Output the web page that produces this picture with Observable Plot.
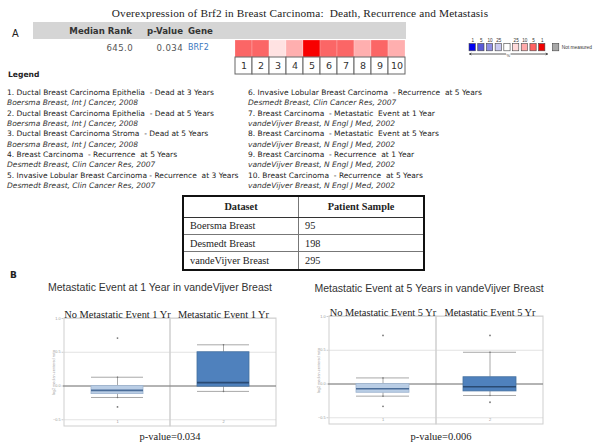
<!DOCTYPE html>
<html><head><meta charset="utf-8">
<script src="https://cdn.jsdelivr.net/npm/d3@7"></script>
<script src="https://cdn.jsdelivr.net/npm/@observablehq/plot@0.6"></script>
<style>
html,body{margin:0;padding:0;background:#fff;}
#root{position:relative;width:600px;height:448px;overflow:hidden;font-family:"Liberation Sans",Arial,sans-serif;}
.abs{position:absolute;white-space:pre;}
.plotbox{position:absolute;}
table.ds{position:absolute;border-collapse:collapse;border:2px solid #111;font-family:"Liberation Serif",serif;font-size:10.3px;color:#222;}
table.ds td, table.ds th{border:1px solid #777;padding:0 6px;}
table.ds th{font-weight:bold;text-align:center;border-bottom:1.5px solid #333;}
</style></head>
<body><div id="root"></div>
<script>
// ---------------- data ----------------
const chartTitle = "Overexpression of Brf2 in Breast Carcinoma:  Death, Recurrence and Metastasis";
const headerLabels = ["Median Rank", "p-Value", "Gene"];
const geneValues = ["645.0", "0.034", "BRF2"];

const studyIds = [1, 2, 3, 4, 5, 6, 7, 8, 9, 10];
const studyBins = [5, 5, 25, 10, 1, 5, 5, 10, 5, 10];           // top-% bin of each analysis
const redBins = [1, 5, 10, 25];
const redColors = ["#f80000", "#fb6666", "#ffafaf", "#ffe2e2"];

const legendSwatchLabels = ["1", "5", "10", "25", "", "25", "10", "5", "1"];
const legendSwatchColors = ["#0000f0", "#5a5ad8", "#8e8ee4", "#cacaf2", "#ffffff", "#ffdada", "#ffaaaa", "#ff6262", "#f00000"];
const notMeasuredColor = "#a8a8a8";
const notMeasuredLabel = "Not measured";

const legendTitles = [
  "1. Ductal Breast Carcinoma Epithelia  - Dead at 3 Years",
  "2. Ductal Breast Carcinoma Epithelia  - Dead at 5 Years",
  "3. Ductal Breast Carcinoma Stroma  - Dead at 5 Years",
  "4. Breast Carcinoma  - Recurrence  at 5 Years",
  "5. Invasive Lobular Breast Carcinoma - Recurrence  at 3 Years",
  "6. Invasive Lobular Breast Carcinoma  - Recurrence  at 5 Years",
  "7. Breast Carcinoma  - Metastatic  Event at 1 Year",
  "8. Breast Carcinoma  - Metastatic  Event at 5 Years",
  "9. Breast Carcinoma  - Recurrence  at 1 Year",
  "10. Breast Carcinoma  - Recurrence  at 5 Years"
];
const legendSources = [
  "Boersma Breast, Int J Cancer, 2008",
  "Boersma Breast, Int J Cancer, 2008",
  "Boersma Breast, Int J Cancer, 2008",
  "Desmedt Breast, Clin Cancer Res, 2007",
  "Desmedt Breast, Clin Cancer Res, 2007",
  "Desmedt Breast, Clin Cancer Res, 2007",
  "vandeVijver Breast, N Engl J Med, 2002",
  "vandeVijver Breast, N Engl J Med, 2002",
  "vandeVijver Breast, N Engl J Med, 2002",
  "vandeVijver Breast, N Engl J Med, 2002"
];

const tableHeader = ["Dataset", "Patient Sample"];
const tableDatasets = ["Boersma Breast", "Desmedt Breast", "vandeVijver Breast"];
const tableSamples = [95, 198, 295];

const yTicks = [-0.5, 0, 0.5, 1.0];
const yDomain = [-0.6, 1.0];
const zeroLine = [0];

// Panel 1: metastatic event at 1 year
const p1Title = "Metastatic Event at 1 Year in vandeVijver Breast";
const p1Groups = ["No Metastatic Event 1 Yr", "Metastatic Event 1 Yr"];
const p1Q1 = [-0.12, -0.01];
const p1Med = [-0.065, 0.05];
const p1Q3 = [0.0, 0.50];
const p1Lo = [-0.17, -0.08];
const p1Hi = [0.13, 0.61];
const p1OutGroup = [0, 0];
const p1OutValue = [0.71, -0.31];
const p1PValue = "p-value=0.034";

// Panel 2: metastatic event at 5 years
const p2Title = "Metastatic Event at 5 Years in vandeVijver Breast";
const p2Groups = ["No Metastatic Event 5 Yr", "Metastatic Event 5 Yr"];
const p2Q1 = [-0.13, -0.11];
const p2Med = [-0.07, -0.04];
const p2Q3 = [0.0, 0.10];
const p2Lo = [-0.18, -0.17];
const p2Hi = [0.09, 0.47];
const p2OutGroup = [0, 0, 1, 1];
const p2OutValue = [0.72, -0.33, 0.72, -0.27];
const p2PValue = "p-value=0.006";

const boxFills = ["#b9cde5", "#4f81bd"];
const boxStrokes = ["#9db3cf", "#44709f"];
const medianColors = ["#4a6d99", "#2a4a72"];

// ---------------- helpers ----------------
const root = document.getElementById("root");
function label(text, x, yc, css = {}, anchor = "start") {
  const d = document.createElement("div");
  d.className = "abs";
  d.textContent = text;
  const lh = css.lh || 12;
  Object.assign(d.style, {top: (yc - lh / 2) + "px", lineHeight: lh + "px"});
  if (anchor === "start") d.style.left = x + "px";
  else if (anchor === "end") { d.style.right = (600 - x) + "px"; }
  else { d.style.left = x + "px"; d.style.transform = "translateX(-50%)"; }
  for (const k in css) if (k !== "lh") d.style[k] = css[k];
  root.appendChild(d);
  return d;
}
function placePlot(svg, left, top) {
  const w = document.createElement("div");
  w.className = "plotbox";
  w.style.left = left + "px";
  w.style.top = top + "px";
  w.appendChild(svg);
  root.appendChild(w);
}

// ---------------- title & section A ----------------
label(chartTitle, 300, 13, {fontFamily: "Liberation Serif, serif", fontSize: "11.3px", letterSpacing: "0.15px", color: "#222"}, "middle");
label("A", 12, 34, {fontSize: "10px", color: "#222"});

const bar = document.createElement("div");
Object.assign(bar.style, {position: "absolute", left: "33px", top: "22px", width: "373px", height: "17px", background: "#d5d5d5"});
root.appendChild(bar);

const hdrCss = {fontFamily: "DejaVu Sans, sans-serif", fontWeight: "bold", fontSize: "8.6px", color: "#333"};
label(headerLabels[0], 132, 31, hdrCss, "end");
label(headerLabels[1], 183, 31, hdrCss, "end");
label(headerLabels[2], 188, 31, hdrCss, "start");
const valCss = {fontFamily: "DejaVu Sans, sans-serif", fontSize: "8.6px", color: "#555", letterSpacing: "0.4px"};
label(geneValues[0], 133, 48, valCss, "end");
label(geneValues[1], 183, 48, valCss, "end");
label(geneValues[2], 188, 48, {fontFamily: "DejaVu Sans, sans-serif", fontSize: "8px", color: "#3b78c0"}, "start");

// heatmap of the ten analyses
const studies = studyIds.map((id, i) => ({id, bin: studyBins[i], num: String(id)}));
const heat = Plot.plot({
  width: 175, height: 35, marginLeft: 1, marginRight: 1, marginTop: 0, marginBottom: 1,
  style: {background: "transparent", overflow: "visible", fontFamily: "DejaVu Sans, sans-serif"},
  x: {type: "band", domain: studyIds, padding: 0, axis: null},
  y: {type: "band", domain: ["heat", "num"], padding: 0, axis: null},
  color: {type: "ordinal", domain: redBins, range: redColors},
  marks: [
    Plot.cell(studies, {x: "id", y: () => "heat", fill: "bin", stroke: "#fff", strokeOpacity: 0.35, strokeWidth: 0.6}),
    Plot.cell(studies, {x: "id", y: () => "num", fill: "#fff", stroke: "#666", strokeWidth: 1}),
    Plot.text(studies, {x: "id", y: () => "num", text: "num", fontSize: 9.5, fill: "#333"})
  ]
});
placePlot(heat, 232, 39.5);

// colour legend
const swatches = legendSwatchLabels.map((lab, i) => ({i, lab, color: legendSwatchColors[i]}));
swatches.push({i: 9.6, lab: "", color: notMeasuredColor});
const arrowSpans = [{from: 3.8, to: -0.35}, {from: 4.4, to: 8.6}];
const legendPlot = Plot.plot({
  width: 140, height: 22, margin: 0,
  style: {background: "transparent", overflow: "visible", fontFamily: "Liberation Sans, sans-serif"},
  x: {domain: [-1.4, 14.7], axis: null},
  y: {type: "band", domain: ["label", "swatch", "arrow"], padding: 0, axis: null},
  color: {type: "identity"},
  marks: [
    Plot.barX(swatches, {x1: d => d.i - 0.36, x2: d => d.i + 0.36, y: () => "swatch", fill: "color", stroke: "#444", strokeWidth: 0.6, insetTop: 0.5, insetBottom: -0.8}),
    Plot.text(swatches, {x: "i", y: () => "label", text: "lab", fontSize: 4.6, fill: "#333", dy: 1}),
    Plot.text([notMeasuredLabel], {x: () => 10.25, y: () => "swatch", text: d => d, textAnchor: "start", fontSize: 4.8, fill: "#333"}),
    Plot.arrow(arrowSpans, {x1: "from", x2: "to", y1: () => "arrow", y2: () => "arrow", headLength: 3, strokeWidth: 0.8, stroke: "#333"}),
    Plot.text(["%"], {x: () => 4.1, y: () => "arrow", text: d => d, fontSize: 4, fill: "#333", dy: 2})
  ]
});
placePlot(legendPlot, 460, 35);

// text legend
label("Legend", 8, 75, {fontFamily: "DejaVu Sans, sans-serif", fontWeight: "bold", fontSize: "7.6px", color: "#222"});
const legCss = {fontFamily: "DejaVu Sans, sans-serif", fontSize: "7.5px", color: "#222", lh: 10};
legendTitles.forEach((t, i) => {
  const col = i < 5 ? 0 : 1;
  const row = i % 5;
  const x = col === 0 ? 7 : 248;
  const y = 93 + row * 2 * 10.35;
  label(t, x, y, legCss);
  label(legendSources[i], x, y + 10.35, Object.assign({}, legCss, {fontStyle: "italic", color: "#333"}));
});

// dataset table
const tbl = document.createElement("table");
tbl.className = "ds";
Object.assign(tbl.style, {left: "182px", top: "195px", width: "243px", height: "76px"});
let html = `<tr style="height:21px"><th style="width:102px">${tableHeader[0]}</th><th>${tableHeader[1]}</th></tr>`;
tableDatasets.forEach((d, i) => { html += `<tr><td>${d}</td><td>${tableSamples[i]}</td></tr>`; });
tbl.innerHTML = html;
root.appendChild(tbl);

// ---------------- section B ----------------
label("B", 10, 275, {fontFamily: "DejaVu Sans, sans-serif", fontWeight: "bold", fontSize: "9px", color: "#222"});

function boxPlot(groups, q1, med, q3, lo, hi, outG, outV, width, marginLeft, marginRight) {
  const rows = groups.map((g, i) => ({group: g, idx: String(i + 1), q1: q1[i], med: med[i], q3: q3[i], lo: lo[i], hi: hi[i], mc: medianColors[i], sc: boxStrokes[i]}));
  const outliers = outG.map((g, i) => ({group: groups[g], v: outV[i]}));
  const ins = 27;
  return Plot.plot({
    width, height: 140, marginTop: 18, marginBottom: 14, marginLeft, marginRight,
    style: {background: "transparent", overflow: "visible", fontFamily: "Liberation Sans, sans-serif"},
    x: {type: "band", domain: groups, padding: 0},
    y: {domain: yDomain},
    color: {type: "ordinal", domain: groups, range: boxFills},
    marks: [
      Plot.gridY(yTicks, {stroke: "#dcdcdc", strokeOpacity: 1, strokeWidth: 0.8}),
      Plot.cell(rows, {x: "group", fill: "none", stroke: "#cfcfcf", strokeWidth: 1}),
      Plot.ruleX(rows, {x: "group", y1: "q3", y2: "hi", stroke: "#a8a8a8"}),
      Plot.ruleX(rows, {x: "group", y1: "lo", y2: "q1", stroke: "#a8a8a8"}),
      Plot.tickY(rows, {x: "group", y: "hi", stroke: "#a8a8a8", insetLeft: ins, insetRight: ins}),
      Plot.tickY(rows, {x: "group", y: "lo", stroke: "#a8a8a8", insetLeft: ins, insetRight: ins}),
      Plot.ruleY(zeroLine, {stroke: "#777", strokeWidth: 1}),
      Plot.barY(rows, {x: "group", y1: "q1", y2: "q3", fill: "group", stroke: "sc", strokeWidth: 0.8, insetLeft: ins, insetRight: ins}),
      Plot.tickY(rows, {x: "group", y: "med", stroke: "mc", strokeWidth: 1.6, insetLeft: ins, insetRight: ins}),
      Plot.dot(rows, {x: "group", y: "hi", r: 0.8, fill: "#777", stroke: null}),
      Plot.dot(rows, {x: "group", y: "lo", r: 0.8, fill: "#777", stroke: null}),
      Plot.dot(outliers, {x: "group", y: "v", r: 0.9, fill: "#777", stroke: null}),
      Plot.text(rows, {x: "group", text: "idx", frameAnchor: "bottom", dy: -3.5, fontSize: 4, fill: "#999"}),
      Plot.axisX({anchor: "top", tickSize: 0, tickPadding: 1, fontSize: 10.4, fontFamily: "Liberation Serif, serif", fill: "#222", label: null}),
      Plot.axisY(yTicks, {tickSize: 1.5, tickPadding: 1.5, tickFormat: d3.format(".1f"), fontSize: 3.8, fill: "#999", stroke: "#ccc",
        label: "log2 median-centered ratio", labelAnchor: "center", labelArrow: "none", labelOffset: 11})
    ]
  });
}

const titleCss = {fontFamily: "Liberation Sans, sans-serif", fontSize: "10.5px", color: "#333"};
label(p1Title, 160, 287, titleCss, "middle");
label(p2Title, 429, 288, titleCss, "middle");

placePlot(boxPlot(p1Groups, p1Q1, p1Med, p1Q3, p1Lo, p1Hi, p1OutGroup, p1OutValue, 290, 63, 14), 0, 300);
placePlot(boxPlot(p2Groups, p2Q1, p2Med, p2Q3, p2Lo, p2Hi, p2OutGroup, p2OutValue, 290, 28, 47), 300, 298);

const pCss = {fontFamily: "Liberation Serif, serif", fontSize: "10.5px", color: "#222"};
label(p1PValue, 170, 437, pCss, "middle");
label(p2PValue, 441, 437, pCss, "middle");
</script>
</body></html>
